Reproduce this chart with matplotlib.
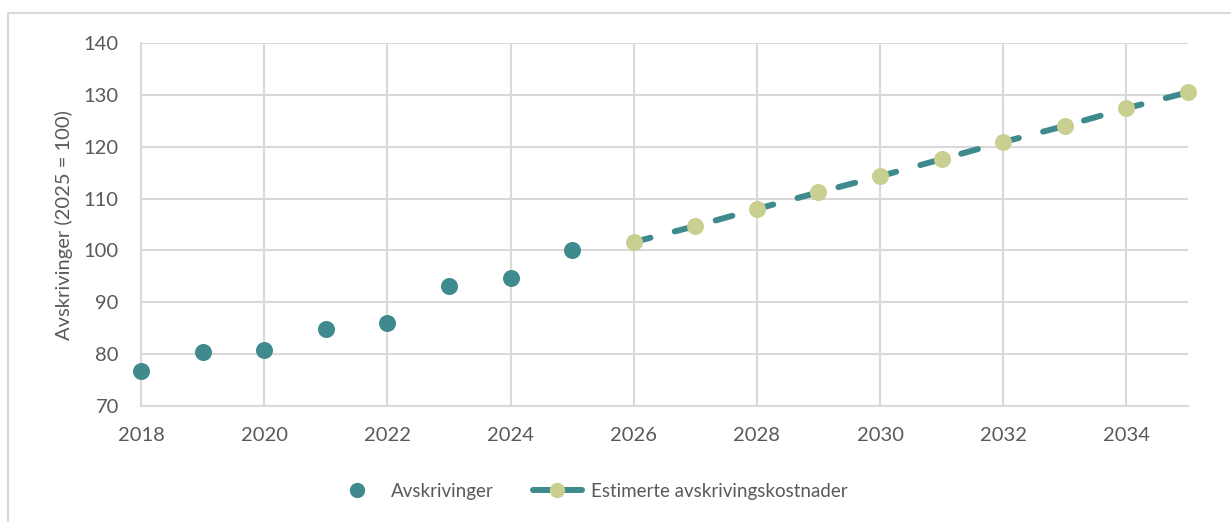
import matplotlib
matplotlib.use("Agg")
import matplotlib.pyplot as plt
from matplotlib.lines import Line2D
from matplotlib.patches import Rectangle

# Historical depreciation index (2025 = 100)
hist_years = [2018, 2019, 2020, 2021, 2022, 2023, 2024, 2025]
hist_values = [76.8, 80.4, 80.8, 84.8, 86.0, 93.1, 94.7, 100.0]

# Estimated depreciation costs
est_years = [2026, 2027, 2028, 2029, 2030, 2031, 2032, 2033, 2034, 2035]
est_values = [101.6, 104.7, 108.0, 111.2, 114.3, 117.6, 120.9, 124.0, 127.4, 130.5]

x_ticks = list(range(2018, 2035, 2))
y_ticks = list(range(70, 141, 10))

teal = "#3e8a8c"
olive = "#c9cf91"
grid_col = "#d9d9d9"
text_col = "#595959"

plt.rcParams["font.family"] = ["Lato", "DejaVu Sans"]
plt.rcParams["font.size"] = 14

W, H = 1231, 522
fig = plt.figure(figsize=(W / 100, H / 100), dpi=100)
ax = fig.add_axes([141 / W, 1 - 406 / H, (1188 - 141) / W, (406 - 43) / H])

# outer chart frame (only top and left edges fall inside the canvas)
fig.patches.append(
    Rectangle((8 / W, -0.05), 1.2, 1 - 13 / H + 0.05,
              transform=fig.transFigure, fill=False,
              edgecolor=grid_col, lw=1.5, zorder=0)
)

ax.scatter(hist_years, hist_values, s=150, color=teal, zorder=3,
           linewidths=0, clip_on=False)

line, = ax.plot(est_years, est_values, color=teal, lw=4.3,
                solid_capstyle="round", dash_capstyle="round",
                zorder=3, clip_on=False)
line.set_dashes([2.9, 4.2])
ax.scatter(est_years, est_values, s=150, color=olive, zorder=4,
           linewidths=0, clip_on=False)

ax.set_xlim(2018, 2035)
ax.set_ylim(70, 140)
ax.set_xticks(x_ticks)
ax.set_yticks(y_ticks)
ax.grid(True, color=grid_col, lw=1.5)
ax.set_axisbelow(True)

for side in ["top", "right"]:
    ax.spines[side].set_visible(False)
for side in ["left", "bottom"]:
    ax.spines[side].set_color(grid_col)
    ax.spines[side].set_linewidth(1.5)

ax.tick_params(axis="both", length=0, colors=text_col, labelsize=14.5)
ax.tick_params(axis="x", pad=15)
ax.tick_params(axis="y", pad=16)

fig.text(73 / W, 1 - 225 / H, "Avskrivinger (2025 = 100)", rotation=90,
         rotation_mode="anchor", ha="center", va="bottom",
         color=text_col, fontsize=14.5)

handles = [
    Line2D([], [], ls="none", marker="o", markersize=11, color=teal, mew=0),
    Line2D([], [], color=teal, lw=4.3, solid_capstyle="round",
           marker="o", markersize=11, markerfacecolor=olive, mew=0),
]
leg = fig.legend(handles, ["Avskrivinger", "Estimerte avskrivingskostnader"],
                 loc="center", bbox_to_anchor=(590 / W, 1 - 491 / H),
                 ncol=2, frameon=False, fontsize=13.5, handlelength=2.6,
                 handletextpad=0.5, columnspacing=2.1)
for t in leg.get_texts():
    t.set_color(text_col)

fig.savefig("out.png", dpi=100)
